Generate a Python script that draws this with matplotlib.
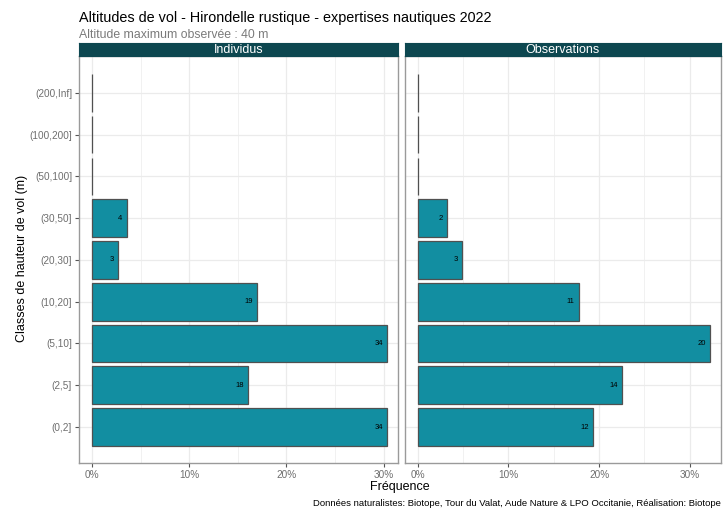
import matplotlib
matplotlib.use('Agg')
import matplotlib.pyplot as plt
from matplotlib.ticker import FuncFormatter

plt.rcParams['font.family'] = ['Liberation Sans', 'DejaVu Sans']

# height classes, bottom to top
classes = ['(0,2]', '(2,5]', '(5,10]', '(10,20]', '(20,30]', '(30,50]',
           '(50,100]', '(100,200]', '(200,Inf]']
# counts per class
individus = [34, 18, 34, 19, 3, 4, 0, 0, 0]
observations = [12, 14, 20, 11, 3, 2, 0, 0, 0]
panels = ['Individus', 'Observations']

title = "Altitudes de vol - Hirondelle rustique - expertises nautiques 2022"
subtitle = "Altitude maximum observée : 40 m"
caption = "Données naturalistes: Biotope, Tour du Valat, Aude Nature & LPO Occitanie, Réalisation: Biotope"

bar_col = '#128ea1'
edge_col = '#505050'
strip_col = '#0d4750'
grid_col = '#ebebeb'
border_col = '#9a9a9a'
tick_col = '#6e6e6e'

fig = plt.figure(figsize=(7.27, 5.08), dpi=100)
W, H = 727, 508

def frac(x0, y0, x1, y1):
    return [x0 / W, 1 - y1 / H, (x1 - x0) / W, (y1 - y0) / H]

boxes = [(79, 56, 398, 463), (405, 56, 721, 463)]
ypos = list(range(1, len(classes) + 1))

for i, (name, counts) in enumerate(zip(panels, [individus, observations])):
    x0, y0, x1, y1 = boxes[i]
    ax = fig.add_axes(frac(x0, y0, x1, y1))
    total = sum(counts)
    pct = [100 * c / total for c in counts]
    mx = max(pct)
    ax.set_xlim(-0.044 * mx, mx * 1.037)
    ax.set_ylim(0.14, 9.88)

    ax.barh(ypos, pct, height=0.9, color=bar_col, edgecolor=edge_col,
            linewidth=0.9, zorder=3)
    for y, p, c in zip(ypos, pct, counts):
        if c > 0:
            ax.annotate(str(c), (p, y), xytext=(-3, 0), textcoords='offset points',
                        ha='right', va='center', fontsize=5.5, color='black', zorder=4)

    ax.set_xticks([0, 10, 20, 30])
    ax.set_xticks([5, 15, 25], minor=True)
    ax.xaxis.set_major_formatter(FuncFormatter(lambda v, p: f"{v:.0f}%"))
    ax.set_yticks(ypos)
    ax.grid(True, which='major', color=grid_col, linewidth=0.9, zorder=0)
    ax.grid(True, which='minor', axis='x', color=grid_col, linewidth=0.5, zorder=0)
    ax.set_axisbelow(True)
    ax.tick_params(axis='x', which='minor', length=0)
    ax.tick_params(axis='both', which='major', length=3, width=0.8,
                   color='#555555', labelcolor=tick_col, labelsize=7.2, pad=2)
    if i == 0:
        ax.set_yticklabels(classes)
    else:
        ax.tick_params(axis='y', length=0, labelleft=False)
    for s in ax.spines.values():
        s.set_color(border_col)
        s.set_linewidth(1.0)

    # facet strip
    sax = fig.add_axes(frac(x0, 43, x1, 56))
    sax.set_facecolor(strip_col)
    sax.set_xticks([])
    sax.set_yticks([])
    for s in sax.spines.values():
        s.set_color(strip_col)
    sax.text(0.5, 0.45, name, ha='center', va='center', color='white',
             fontsize=9, transform=sax.transAxes)

fig.text(79 / W, 1 - 18 / H, title, fontsize=10.4, color='black', va='center', ha='left')
fig.text(79 / W, 1 - 35 / H, subtitle, fontsize=8.8, color='#7a7a7a', va='center', ha='left')
fig.text(400 / W, 1 - 487 / H, "Fréquence", fontsize=9, ha='center', va='center')
fig.text(22 / W, 1 - 258 / H, "Classes de hauteur de vol (m)", fontsize=9,
         rotation=90, ha='center', va='center')
fig.text(721 / W, 1 - 503 / H, caption, fontsize=6.8, ha='right', va='center')

fig.savefig('out.png', dpi=100)
